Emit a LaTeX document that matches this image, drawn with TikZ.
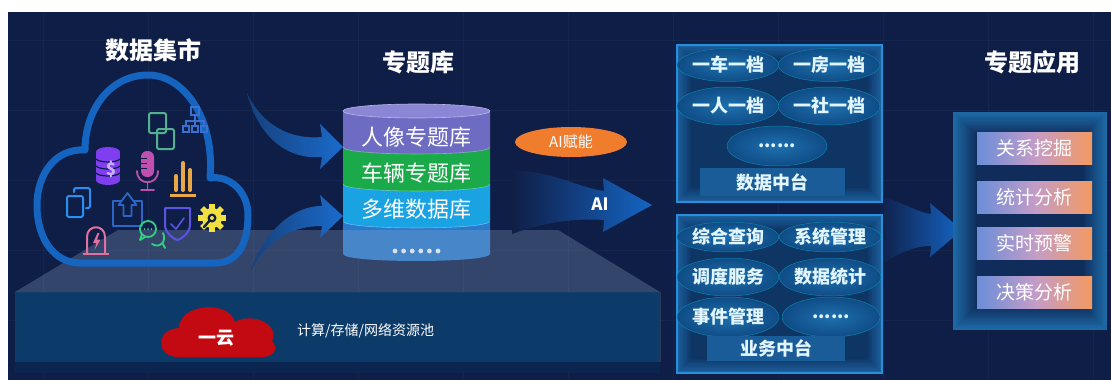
\documentclass[tikz,border=0pt]{standalone}
\usepackage{fontspec}
\setmainfont{Noto Sans CJK SC}
\usetikzlibrary{shapes.geometric,calc}

\definecolor{bg}{HTML}{0F1E46}
\definecolor{cloudline}{HTML}{1565C0}
\definecolor{swA}{HTML}{16407C}
\definecolor{swB}{HTML}{1A6BCB}
\definecolor{aiB}{HTML}{1565C4}
\definecolor{frontface}{HTML}{0D3B69}
\definecolor{bottomband}{HTML}{0A2550}
\definecolor{topface}{HTML}{8CA2C6}
\definecolor{dbTop}{HTML}{8B87D6}
\definecolor{dbPurple}{HTML}{6D6BC2}
\definecolor{dbGreen}{HTML}{1BAA4A}
\definecolor{dbCyan}{HTML}{19A3E3}
\definecolor{dbBlue}{HTML}{2A7ACB}
\definecolor{orangeTag}{HTML}{F07D2E}
\definecolor{panelEdge}{HTML}{1B5F9C}
\definecolor{panelIn}{HTML}{0E3464}
\definecolor{panelLine}{HTML}{2690DC}
\definecolor{pillIn}{HTML}{1E70AE}
\definecolor{pillOut}{HTML}{0F4C86}
\definecolor{pillText}{HTML}{E2F6FF}
\definecolor{tagFill}{HTML}{1A5C97}
\definecolor{rpEdge}{HTML}{1C69A6}
\definecolor{rpIn}{HTML}{0F2653}
\definecolor{btnL}{HTML}{6A8ED8}
\definecolor{btnM}{HTML}{C39CC8}
\definecolor{btnR}{HTML}{F39A62}
\definecolor{redCloud}{HTML}{C30A12}
\definecolor{icDb}{HTML}{7F3FF0}
\definecolor{icDbLight}{HTML}{C9B0FF}
\definecolor{icMic}{HTML}{C050B0}
\definecolor{icLink}{HTML}{55B090}
\definecolor{icOrg}{HTML}{3A70D0}
\definecolor{icBar}{HTML}{E8A848}
\definecolor{icCopy}{HTML}{2A90F0}
\definecolor{icUp}{HTML}{2A66C8}
\definecolor{icChat}{HTML}{30D080}
\definecolor{icShield}{HTML}{5A54E0}
\definecolor{icGear}{HTML}{F0E040}
\definecolor{icAlarm}{HTML}{E070A0}

\begin{document}
\begin{tikzpicture}[x=1pt,y=-1pt,
  title/.style={text=white, font=\fontsize{24}{28}\selectfont\bfseries, inner sep=0pt},
  dbtext/.style={text=white, font=\fontsize{22}{24}\selectfont, inner sep=0pt},
  pill/.style={ellipse, inner sep=0pt, minimum width=100pt, minimum height=34pt,
    inner color=pillIn, outer color=pillOut, draw=pillOut!70!cyan, line width=0.5pt,
    text=pillText, font=\fontsize{18}{20}\selectfont\bfseries},
  tagbox/.style={rectangle, inner sep=0pt, fill=tagFill, text=pillText,
    font=\fontsize{18}{20}\selectfont\bfseries},
  btn/.style={rectangle, inner sep=0pt, minimum width=115pt, minimum height=32pt,
    left color=btnL, right color=btnR, middle color=btnM, text=white,
    font=\fontsize{19}{21}\selectfont},
  icon/.style={line width=2pt, line cap=round, line join=round}]

\useasboundingbox (0,0) rectangle (1111,380);
\fill[white] (0,0) rectangle (1111,380);
\fill[bg] (8,12) rectangle (1111,380);
% faint background grid
\foreach \gx in {43,148,...,1100} \draw[white, opacity=0.035, line width=0.6pt] (\gx,12) -- (\gx,380);
\foreach \gy in {40,110,...,380} \draw[white, opacity=0.03, line width=0.6pt] (8,\gy) -- (1111,\gy);

% ---------- titles ----------
\node[title] (tMart) at (153,50) {数据集市};
\node[title] (tLib)  at (418,62) {专题库};
\node[title] (tApp)  at (1032,62) {专题应用};

% ---------- thematic database cylinder ----------
\fill[dbBlue] (343,222) -- (343,254) .. controls (343,263.3) and (490,263.3) .. (490,254) -- (490,222) -- cycle;
\fill[dbCyan] (343,184) -- (343,221) .. controls (343,230.3) and (490,230.3) .. (490,221) -- (490,184) -- cycle;
\fill[dbGreen] (343,147) -- (343,184) .. controls (343,193.3) and (490,193.3) .. (490,184) -- (490,147) -- cycle;
\fill[dbPurple] (343,111) -- (343,147) .. controls (343,156.3) and (490,156.3) .. (490,147) -- (490,111) -- cycle;
\draw[white, opacity=0.35, line width=0.6pt] (343,147) .. controls (343,156.3) and (490,156.3) .. (490,147);
\draw[white, opacity=0.35, line width=0.6pt] (343,184) .. controls (343,193.3) and (490,193.3) .. (490,184);
\draw[white, opacity=0.35, line width=0.6pt] (343,221) .. controls (343,230.3) and (490,230.3) .. (490,221);
\filldraw[fill=dbTop, draw=white!40!dbTop, line width=0.6pt] (416.5,111) ellipse (73.5 and 7);
\node[dbtext] (db1) at (416.5,137) {人像专题库};
\node[dbtext] (db2) at (416.5,173) {车辆专题库};
\node[dbtext] (db3) at (416.5,209) {多维数据库};
\coordinate (db4) at (416.5,251);
\foreach \k in {-2.5,-1.5,...,2.5} \fill[white] ($(db4)+(8.6*\k,0)$) circle (2.4);

% ---------- base platform ----------
\fill[frontface] (15,292) rectangle (660,362);
\fill[bottomband] (15,362) rectangle (660,373);
\draw[white, opacity=0.12, line width=0.8pt] (660,292) -- (660,362);
\fill[topface, opacity=0.3] (15,292) -- (118,230) -- (558,230) -- (660,292) -- cycle;

% red cloud with label
\fill[redCloud] (178,357) .. controls (156,357) and (155,329) .. (179,328)
  .. controls (180,303) and (229,300) .. (235,322)
  .. controls (252,312) and (280,324) .. (272,341)
  .. controls (280,350) and (272,357) .. (262,357) -- cycle;
\node[text=white, font=\fontsize{18}{20}\selectfont\bfseries, inner sep=0pt] (yun) at (216,338) {一云};
\node[text=white, font=\fontsize{14}{16}\selectfont, inner sep=0pt, anchor=west] (pool) at (297,331) {计算/存储/网络资源池};

% ---------- data mart cloud ----------
\draw[cloudline, line width=7pt, line join=round]
  (80,263) -- (215,263)
  .. controls (240,263) and (248,240) .. (248,215)
  .. controls (248,190) and (228,175) .. (210,178)
  .. controls (215,120) and (185,75) .. (148,75)
  .. controls (110,75) and (85,110) .. (85,150)
  .. controls (55,148) and (37,175) .. (37,205)
  .. controls (37,240) and (55,263) .. (80,263) -- cycle;

% database coin icon
\fill[icDb] (96,152) rectangle (120,180);
\fill[icDb] (108,152) ellipse (12 and 5);
\fill[icDb] (108,180) ellipse (12 and 5);
\foreach \yy in {159,166,173}
  \draw[bg, line width=1.2pt] (96,\yy) .. controls (100,\yy+4) and (116,\yy+4) .. (120,\yy);
\node[text=icDbLight, font=\fontsize{17}{17}\selectfont\bfseries, inner sep=0pt] (dollar) at (111,169) {\$};
% microphone
\fill[icMic, rounded corners=6pt] (141,151) rectangle (154,177);
\draw[bg, line width=1pt] (141,158) -- (147,158) (141,163) -- (147,163) (141,168) -- (147,168);
\draw[icMic, icon, line width=1.8pt] (137,171) .. controls (137,186) and (158,186) .. (158,171);
\draw[icMic, icon, line width=1.8pt] (147.5,183) -- (147.5,190) (141,190) -- (154,190);
% linked squares
\draw[icLink, icon, rounded corners=2pt] (149,113) rectangle (166,133);
\draw[icLink, icon, rounded corners=2pt] (157,129) rectangle (174,149);
% org chart
\draw[icOrg, line width=1.4pt] (191,107) rectangle (199,115);
\draw[icOrg, line width=1.4pt] (195,115) -- (195,121) (186,126) -- (186,121) -- (204,121) -- (204,126) (195,121) -- (195,126);
\draw[icOrg, line width=1.4pt] (183,126) rectangle (189,132) (192,126) rectangle (198,132) (201,126) rectangle (207,132);
% bar chart
\draw[icBar, line width=4pt, line cap=round] (176,176) -- (176,190) (183,163) -- (183,190) (190,170) -- (190,190);
\draw[icBar, line width=3pt] (170,195) -- (196,195);
% copy icon
\draw[icCopy, icon, rounded corners=2pt] (74,192) -- (74,188) -- (90,188) -- (90,208) -- (86,208);
\draw[icCopy, icon, rounded corners=2pt] (67,196) rectangle (83,217);
% upload box
\draw[icUp, icon] (121,201) -- (113,201) -- (113,226) -- (142,226) -- (142,201) -- (134,201);
\draw[icUp, icon, line width=1.8pt] (123.5,216) -- (123.5,205) -- (118.5,205) -- (127.5,193) -- (136.5,205) -- (131.5,205) -- (131.5,216) -- cycle;
% chat bubbles
\draw[icChat, icon, line width=1.8pt] (148,229) circle (8);
\draw[icChat, icon, line width=1.8pt] (142,234) -- (140,240) -- (146,236.5);
\draw[icChat, icon, line width=1.8pt] (152,244) .. controls (160,249) and (167,241) .. (163,233) (163,244) -- (165,248);
\foreach \dx in {-3.5,0,3.5} \fill[icChat] (148+\dx,229) circle (1);
% shield
\draw[icShield, icon] (165,208) -- (190,208) -- (190,225) .. controls (190,234) and (179,240) .. (177.5,240) .. controls (176,240) and (165,234) .. (165,225) -- cycle;
\draw[icShield, icon, line width=1.6pt] (171,224) -- (176,229) -- (184,218);
% gear with wrench
\fill[icGear] (212,218) circle (10);
\foreach \a in {0,45,...,315}
  \fill[icGear, rotate around={\a:(212,218)}] (209.3,204) rectangle (214.7,210);
\fill[bg] (212,218) circle (4.5);
\draw[bg, line width=2.4pt, line cap=round] (204,227) -- (211,219);
\fill[icGear] (212,218) circle (2);
% alarm lamp
\draw[icAlarm, icon] (87,253) -- (87,237) .. controls (87,224) and (105,224) .. (105,237) -- (105,253);
\draw[icAlarm, line width=2.5pt] (83,254) -- (109,254);
\fill[icAlarm] (97.5,233) -- (93,243) -- (96.5,243) -- (94.5,250) -- (100.5,239.5) -- (97,239.5) -- (99.5,233) -- cycle;

% ---------- curved arrows into the database ----------
\shade[left color=swA, right color=swB] (247,93) .. controls (262,125) and (290,140) .. (322,137)
  -- (320,124) -- (343,147) -- (320,169) -- (322,157)
  .. controls (285,160) and (258,135) .. (247,93) -- cycle;
\shade[left color=swA, right color=swB] (250,273) .. controls (262,235) and (290,206) .. (322,206)
  -- (320,195) -- (343,216) -- (320,238) -- (322,226)
  .. controls (292,226) and (265,240) .. (250,273) -- cycle;

% ---------- AI enablement ----------
\node[ellipse, fill=orangeTag, minimum width=112pt, minimum height=30pt, inner sep=0pt,
  text=white, font=\fontsize{15}{17}\selectfont] (aitag) at (571,142) {AI赋能};
\shade[left color=bg, right color=aiB] (512,170) .. controls (555,172) and (580,188) .. (604,191)
  -- (603,178) -- (652,205) -- (603,232) -- (604,220)
  .. controls (575,218) and (545,222) .. (512,234) -- cycle;
\node[text=white, font=\fontsize{17}{19}\selectfont\bfseries, inner sep=0pt] (ai) at (600,204) {AI};

% ---------- arrow towards applications ----------
\shade[left color=bg, right color=aiB] (878,196) .. controls (900,200) and (915,212) .. (931,214)
  -- (930,203) -- (962,230) -- (930,257) -- (931,246)
  .. controls (915,246) and (900,252) .. (878,266) -- cycle;

% ---------- data middle platform ----------
\foreach \i in {0,...,9}{
  \pgfmathtruncatemacro\p{100-\i*11}
  \fill[panelEdge!\p!panelIn] (677+1.6*\i,45+1.6*\i) rectangle (882-1.6*\i,202-1.6*\i);
}
\draw[panelLine, line width=1.2pt] (677,45) rectangle (882,202);
\node[pill, minimum height=33pt] (p11) at (728,65) {一车一档};
\node[pill, minimum height=33pt] (p12) at (829,65) {一房一档};
\node[pill, minimum height=38pt] (p21) at (728,106) {一人一档};
\node[pill, minimum height=38pt] (p22) at (829,106) {一社一档};
\node[pill, minimum height=40pt] (p31) at (777,146) {......};
\node[tagbox, minimum width=145pt, minimum height=28pt] (dmid) at (772.5,182) {数据中台};

% ---------- business middle platform ----------
\foreach \i in {0,...,9}{
  \pgfmathtruncatemacro\p{100-\i*11}
  \fill[panelEdge!\p!panelIn] (677+1.6*\i,215+1.6*\i) rectangle (882-1.6*\i,373-1.6*\i);
}
\draw[panelLine, line width=1.2pt] (677,215) rectangle (882,373);
\node[pill, minimum width=96pt, minimum height=30pt] (b11) at (728,237) {综合查询};
\node[pill, minimum width=96pt, minimum height=30pt] (b12) at (830,237) {系统管理};
\node[pill, minimum width=96pt, minimum height=38pt] (b21) at (728,277) {调度服务};
\node[pill, minimum width=96pt, minimum height=38pt] (b22) at (830,277) {数据统计};
\node[pill, minimum width=96pt, minimum height=40pt] (b31) at (728,317) {事件管理};
\node[pill, minimum width=98pt, minimum height=40pt] (b32) at (831,317) {......};
\node[tagbox, minimum width=138pt, minimum height=25pt] (bmid) at (776,348) {业务中台};

% ---------- thematic applications ----------
\foreach \i in {0,...,13}{
  \pgfmathtruncatemacro\p{100-\i*7}
  \fill[rpEdge!\p!rpIn] (953+1.8*\i,112+1.8*\i) rectangle (1107-1.8*\i,330-1.8*\i);
}
\node[btn] (a1) at (1034.5,148) {关系挖掘};
\node[btn] (a2) at (1034.5,197) {统计分析};
\node[btn] (a3) at (1034.5,243) {实时预警};
\node[btn] (a4) at (1034.5,292) {决策分析};

\end{tikzpicture}
\end{document}
